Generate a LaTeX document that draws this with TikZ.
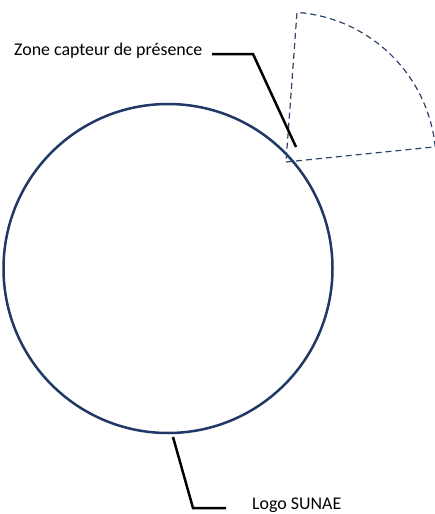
\documentclass[tikz,border=0pt]{standalone}
\usepackage{fontspec}
\setmainfont{Carlito}
\definecolor{navy}{HTML}{1F3864}
\definecolor{dashnavy}{HTML}{2E4468}
\begin{document}
\begin{tikzpicture}[x=1pt,y=1pt,
  ring/.style={circle, draw=navy, line width=2.5pt, minimum size=329pt, inner sep=0pt},
  zonesector/.style={draw=dashnavy, line width=1.2pt, dash pattern=on 6pt off 4pt},
  leader/.style={draw=black, line width=2.5pt},
  label/.style={font=\fontsize{17.9}{20}\selectfont, inner sep=0pt, anchor=base west}]
\useasboundingbox (0,0) rectangle (435,-514);
% circle (logo)
\node[ring] (logo) at (168,-268.5) {};
% sensor zone sector
\coordinate (apex) at (286,-162);
\draw[zonesector] (apex) -- ++(5.8:150) arc[start angle=5.8, end angle=85.8, radius=150] -- cycle;
% labels
\node[label] (zonelbl) at (14,-55) {Zone capteur de présence};
\node[label] (logolbl) at (252,-509) {Logo SUNAE};
% leaders
\coordinate (z1) at (212,-54);
\coordinate (z2) at (253,-54);
\coordinate (z3) at (296,-147);
\draw[leader] (z1) -- (z2) -- (z3);
\coordinate (l1) at (173,-437);
\coordinate (l2) at (193,-508);
\coordinate (l3) at (226,-508);
\draw[leader] (l1) -- (l2) -- (l3);
\end{tikzpicture}
\end{document}
